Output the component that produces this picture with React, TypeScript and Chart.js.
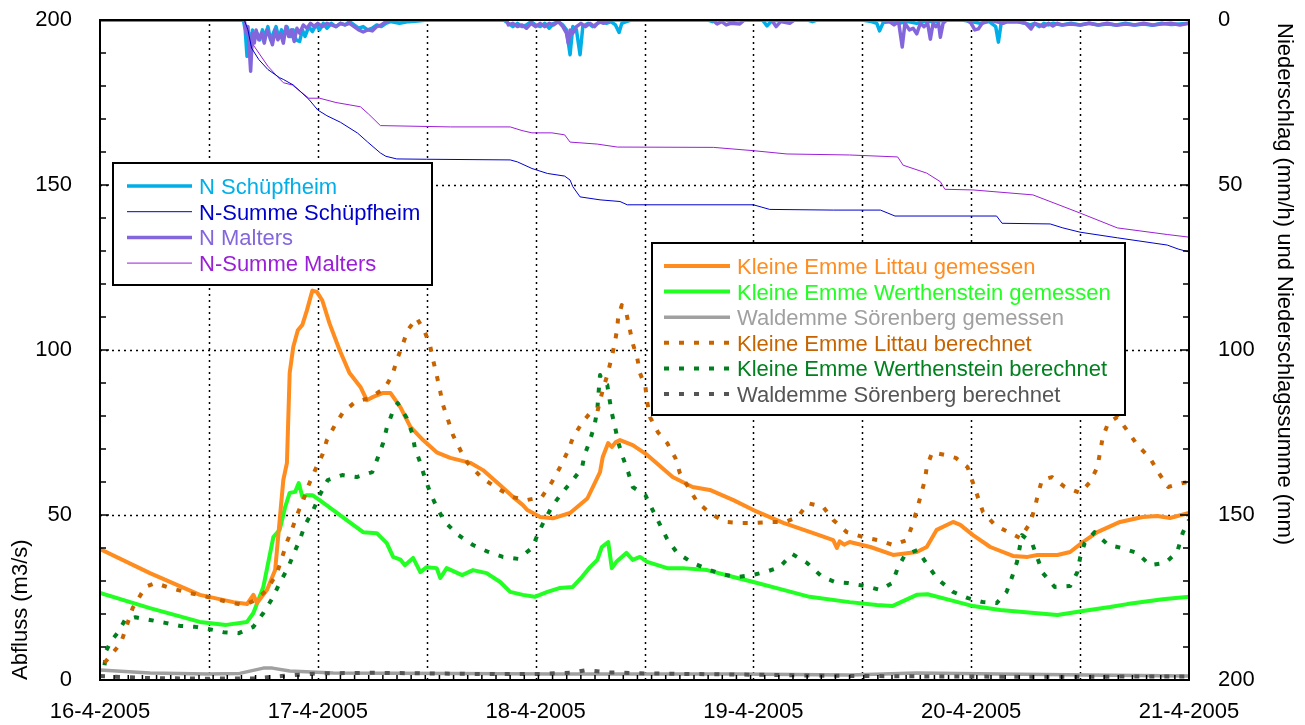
import React, { useEffect, useRef } from 'react';
import { Chart, registerables } from 'chart.js';
Chart.register(...registerables);

// ---------- data (x = hours since 16-4-2005 00:00) ----------
const dayLabels = ['16-4-2005', '17-4-2005', '18-4-2005', '19-4-2005', '20-4-2005', '21-4-2005'];
const leftTickValues = [0, 50, 100, 150, 200];
const rightTickValues = [0, 50, 100, 150, 200];

const seriesNames = [
  'N Schüpfheim',
  'N-Summe Schüpfheim',
  'N Malters',
  'N-Summe Malters',
  'Kleine Emme Littau gemessen',
  'Kleine Emme Werthenstein gemessen',
  'Waldemme Sörenberg gemessen',
  'Kleine Emme Littau berechnet',
  'Kleine Emme Werthenstein berechnet',
  'Waldemme Sörenberg berechnet',
];

// precipitation (mm/h), right axis
const nSchuepfheim: number[][] = [
  [0, 0], [15.8, 0], [16, 3], [16.2, 11], [16.4, 4], [16.6, 9], [16.8, 3], [17, 6], [17.3, 4], [17.6, 6],
  [17.9, 3], [18.2, 5], [18.5, 2], [18.8, 6], [19.1, 4], [19.4, 2], [19.7, 5.5], [20, 3], [20.3, 4.5],
  [20.6, 2], [21, 5], [21.3, 3], [21.6, 6], [22, 6.5], [22.3, 3], [22.6, 5], [23, 2], [23.4, 3.5],
  [23.8, 1.5], [24.2, 3], [24.6, 1], [25, 2.5], [25.5, 1], [26, 2], [26.5, 1], [27, 1.5], [27.5, 0.5],
  [28, 1.5], [28.5, 2.5], [29, 2], [29.5, 3], [30, 2.5], [30.5, 1.5], [31, 2], [31.5, 1], [32, 0.5],
  [33, 1], [34, 0.5], [35, 0.3], [36, 0], [44.5, 0], [45, 1], [45.5, 2], [46, 1], [46.5, 2], [47, 1.5],
  [47.5, 0.5], [48, 1.5], [48.5, 2], [49, 1], [49.5, 2.5], [50, 1], [50.5, 0.5], [51, 1.5], [51.4, 3],
  [51.8, 10.5], [52.1, 2], [52.5, 3], [52.9, 10.5], [53.2, 2], [53.8, 1], [54.3, 2], [54.8, 1], [55.3, 0.5],
  [55.8, 1], [56.3, 0.5], [56.8, 1.5], [57.2, 3.8], [57.5, 1], [58, 0.5], [58.5, 0], [67, 0], [67.5, 0.5],
  [68, 0], [69, 0], [69.5, 0.4], [70, 0], [73, 0], [73.5, 1.8], [74, 0.3], [75, 0], [78, 0], [78.5, 0.5],
  [79, 0], [84, 0], [85, 0.5], [85.6, 1], [85.9, 3.3], [86.3, 0.8], [87, 0.5], [88, 1], [89, 0.5], [90, 1],
  [91, 0.3], [92, 0.5], [93, 0], [95, 0], [96, 0.5], [97, 1], [98, 0.5], [98.7, 2], [99, 6.7], [99.3, 1],
  [100, 0.5], [101, 0.5], [102, 1], [102.5, 1.5], [103, 1], [103.5, 2], [104, 1], [104.5, 1.5], [105, 1],
  [106, 1.5], [107, 1], [108, 1.5], [109, 1], [110, 1.5], [111, 1.2], [112, 1.5], [113, 1], [114, 1.5],
  [115, 1.2], [116, 1.6], [117, 1], [118, 1.4], [119, 1.2], [120, 1],
];

const nMalters: number[][] = [
  [0, 0], [15.9, 0], [16.1, 4], [16.3, 2], [16.6, 15.5], [16.8, 4], [17, 7], [17.2, 3], [17.5, 6], [17.8, 4],
  [18.1, 7], [18.4, 3], [18.7, 5], [19, 7.5], [19.3, 3], [19.6, 6], [19.9, 4], [20.2, 7], [20.5, 2],
  [20.8, 5], [21.1, 3], [21.4, 6.5], [21.7, 2.5], [22, 4], [22.4, 1.5], [22.8, 2.5], [23.2, 1], [23.6, 2],
  [24, 1], [24.5, 2], [25, 1], [25.5, 1.5], [26, 2], [26.5, 1], [27, 1.5], [27.5, 1], [28, 2], [28.5, 3],
  [29, 3.6], [29.5, 3], [30, 3.3], [30.5, 2], [31, 1.5], [31.5, 0.5], [32, 0], [44.8, 0], [45, 1.5],
  [45.5, 1], [46, 2], [46.5, 1.5], [47, 2.5], [47.5, 1], [48, 2], [48.5, 1], [49, 2], [49.5, 1], [50, 1.5],
  [50.5, 0.5], [51, 2], [51.4, 4], [51.6, 7], [51.8, 3], [52.1, 4], [52.5, 2], [53, 1], [53.5, 2], [54, 1],
  [54.5, 2], [55, 0.5], [55.5, 1], [56, 0.3], [56.5, 0], [67.5, 0], [68, 1.2], [68.5, 0.5], [69, 1.5],
  [69.5, 1], [70.5, 1.2], [71, 0], [74, 0], [74.5, 2], [75, 0.5], [76, 1], [76.5, 0], [86, 0], [87, 0.5],
  [87.5, 1.5], [88, 0.5], [88.4, 8.2], [88.7, 1], [89.2, 3], [89.6, 2.5], [90, 4.2], [90.4, 1], [90.8, 2],
  [91.2, 1], [91.5, 5.8], [91.8, 1], [92.1, 2], [92.4, 1], [92.6, 5.2], [92.9, 1], [93.3, 0], [95.5, 0],
  [96, 1], [96.4, 3], [96.8, 2.7], [97.2, 1], [98, 0], [99.5, 1], [100, 0.5], [101, 0.5], [102, 1],
  [102.6, 2.7], [103, 1], [103.5, 1.5], [104, 2], [104.5, 1], [105, 1.8], [105.5, 1], [106, 1.5], [107, 1.2],
  [108, 1.5], [109, 1], [110, 1.5], [111, 1], [112, 1.6], [113, 1.2], [114, 1.5], [115, 1], [116, 1.5],
  [117, 1.2], [118, 1], [119, 1.5], [120, 1],
];

// cumulative precipitation (mm), right axis
const sumSchuepfheim: number[][] = [
  [0, 0], [15.9, 0], [16.3, 3], [16.7, 8.5], [17.5, 12], [18.5, 15], [19.8, 17.5], [20.2, 18], [21.3, 19.7],
  [23, 24], [24, 27.3], [25, 29], [26.5, 31], [28.4, 34.3], [29.5, 37], [30.9, 40.3], [31.5, 41.3],
  [32.7, 42.1], [36, 42.2], [45.2, 42.4], [46, 43], [47.6, 45], [49.3, 46.5], [51.2, 47.3], [51.8, 48.5],
  [52.1, 50.5], [52.9, 53.6], [55.1, 54.5], [57.3, 55], [58.1, 56], [72, 56], [73.8, 57.4], [80.8, 57.6],
  [86, 57.6], [87.6, 59.4], [98.8, 59.4], [99.4, 61.6], [104.7, 61.8], [106.1, 63], [108, 64.3],
  [112.1, 66], [117.6, 68.2], [118.8, 69.4], [120, 70.3],
];

const sumMalters: number[][] = [
  [0, 0], [15.9, 0], [16.5, 6], [17.5, 10], [18.5, 14], [19.5, 17], [20.2, 19], [21.2, 19.7], [23, 23.7],
  [24.2, 23.7], [26, 25], [28.7, 26.3], [29.6, 28.5], [30.9, 32], [38.6, 32.4], [45.2, 32.4], [46.5, 33.5],
  [47.6, 34.2], [49.8, 34.2], [51.2, 34.8], [51.8, 37], [54.8, 37.6], [57, 38.5], [67.6, 38.6], [72, 39.6],
  [75.7, 40.6], [82.6, 40.9], [87.9, 41.5], [88.5, 44], [91.1, 46.4], [92.6, 49], [93.1, 51.3], [96.2, 51.5],
  [102.8, 53], [108, 58.5], [112.1, 63], [117.6, 65], [120, 65.8],
];

// discharge (m3/s), left axis
const littauGemessen: number[][] = [
  [0, 39.7], [5.5, 32.4], [11, 25.8], [14.7, 23.6], [16.2, 23], [16.9, 25.8], [17.3, 23.3], [18.4, 27.3],
  [19.3, 33.3], [20.2, 60.6], [20.6, 65.8], [20.9, 93], [21.3, 101], [21.8, 106], [22.3, 107.6], [22.8, 112],
  [23.4, 118], [23.9, 117.6], [24.5, 115], [25.3, 108], [26.4, 100], [27.5, 93], [28.7, 88.8], [29.4, 84.8],
  [30.1, 85.8], [31.2, 87], [32, 87], [33.1, 82.7], [34.2, 76.7], [35.6, 72.7], [37.1, 69], [38.6, 67.3],
  [40.8, 65.8], [42.2, 63.6], [44.1, 59], [45.5, 55.5], [46.6, 53], [47.1, 51.5], [48.5, 49.4], [49.9, 49],
  [51.8, 50.6], [53.7, 55], [55.1, 63], [55.4, 67.6], [56, 71.8], [56.4, 70.6], [56.8, 72], [57.3, 72.7],
  [58.7, 71.2], [60.3, 68.2], [63.1, 61.5], [65.3, 58.5], [67.2, 57.6], [69.8, 54.5], [72, 51.5], [75.3, 47.6],
  [78.6, 44.5], [80.8, 42.4], [81.2, 40], [81.5, 42], [82, 41], [82.6, 41.8], [84.9, 40.3], [87.4, 37.9],
  [90, 38.8], [91.1, 40.3], [92.2, 45.5], [94, 47.9], [94.8, 47], [96.2, 43.9], [98.1, 40.3], [100.6, 37.6],
  [102.2, 37.3], [103.3, 37.9], [105.5, 37.9], [106.9, 38.8], [108.3, 41.8], [109.9, 44.8], [112.4, 47.9],
  [114.9, 49.4], [116.5, 49.7], [117.9, 49.1], [120, 50.6],
];

const werthensteinGemessen: number[][] = [
  [0, 26.4], [5.5, 21.8], [11, 17.6], [13.9, 16.7], [16.2, 17.6], [16.9, 20.3], [18, 28.2], [19.1, 43.3],
  [19.8, 45.5], [20.4, 52.4], [20.9, 56.7], [21.5, 57], [21.9, 59.7], [22.3, 55.5], [22.8, 56], [23.4, 56],
  [24.2, 54.5], [25.7, 51.5], [27.6, 47.6], [29, 44.8], [30.5, 44.5], [31.6, 41.5], [32.3, 37.3],
  [33.1, 36.5], [33.6, 34.8], [34.5, 37], [35.3, 32.7], [36, 34.2], [37.1, 33.9], [37.5, 30.9], [38.2, 33.9],
  [39.9, 31.8], [41.1, 33.3], [42.6, 32.4], [44.1, 29.7], [45.2, 26.7], [46.6, 25.8], [47.9, 25.2],
  [49.3, 26.7], [50.7, 27.9], [52.1, 28.2], [53.1, 31.2], [54, 34.2], [54.8, 36.4], [55.3, 40.3], [56, 41.8],
  [56.4, 33.9], [56.9, 35.8], [58, 38.5], [58.7, 36.4], [59.5, 37.3], [60.3, 35.8], [62.5, 33.9], [64.2, 33.9],
  [66.9, 33.3], [69.8, 31.2], [72, 29.7], [75.3, 27.3], [78.2, 25.2], [82.6, 23.6], [85.6, 22.7],
  [87.3, 22.4], [90, 25.8], [91.2, 26], [93.7, 24.2], [96.2, 22.4], [99.2, 21.2], [101.7, 20.6],
  [105.5, 19.7], [108.3, 20.9], [111.3, 22.1], [113.2, 23], [117.1, 24.5], [120, 25.2],
];

const soerenbergGemessen: number[][] = [
  [0, 3], [5.5, 2.1], [11.8, 1.8], [15.4, 2], [18, 3.6], [19, 3.6], [20.9, 2.7], [25.7, 2.1], [38.6, 2],
  [50, 1.8], [60, 1.8], [70, 1.8], [82.6, 1.5], [90, 2.1], [99, 1.8], [109, 1.5], [120, 1.2],
];

const littauBerechnet: number[][] = [
  [0.5, 5.2], [1.4, 8.2], [2.3, 11.2], [2.8, 15.2], [3.6, 21.8], [5, 28.2], [6.1, 29.4], [7.7, 27.9],
  [9.4, 26.7], [10.8, 25.8], [12.5, 24.8], [14.1, 23.6], [15.9, 22.7], [17.1, 24.2], [18.4, 27.3],
  [19.5, 32.4], [20.05, 37], [20.6, 41.8], [21.2, 46], [21.8, 50.6], [22.4, 54.5], [22.9, 58.5], [23.7, 63.6],
  [24.5, 68.2], [25, 72.7], [25.9, 77.3], [26.8, 81.2], [28.1, 84.2], [29.75, 85.5], [31.4, 88.5],
  [32.2, 92.4], [32.8, 97.6], [33.4, 102], [33.9, 106], [34.9, 109.7], [35.8, 105.5], [36.4, 101],
  [36.7, 97], [37.1, 92.4], [37.5, 87.3], [37.8, 83.3], [38.35, 78.8], [38.9, 74.2], [39.7, 69.7],
  [40.5, 65.8], [42.1, 61.2], [43.75, 58.2], [45.4, 55.5], [47, 54.5], [48.7, 55.5], [49.8, 60], [50.7, 64.5],
  [51.5, 69], [52.1, 73.3], [53.1, 77.9], [54, 80.9], [54.8, 81.2], [55.4, 87.9], [55.9, 92.4], [56.4, 97.9],
  [56.75, 102.4], [57, 106.7], [57.1, 110], [57.5, 113.6], [58, 111.2], [58.4, 106], [58.7, 102],
  [59.2, 97.6], [59.5, 93], [60.1, 88.8], [60.3, 84.2], [60.6, 79.7], [61.5, 75], [62.5, 71.8], [63.4, 67.3],
  [63.9, 62.7], [64.7, 59], [65.8, 54], [67.2, 50.6], [68.9, 47.9], [70.5, 47.6], [72.2, 47.6], [73.8, 47.9],
  [75.5, 47.9], [76.9, 49.4], [78, 53.6], [79.7, 52.4], [80.8, 48.5], [82.3, 44.8], [84.1, 43.3],
  [85.7, 42.4], [87.4, 40.9], [88.9, 42.4], [89.6, 47.6], [90, 51.5], [90.4, 55.5], [90.9, 60.6],
  [91.1, 64.5], [91.7, 69], [93.1, 68.2], [94.3, 67.3], [95.6, 64.5], [96.2, 59.7], [97.3, 50.9], [98.6, 47],
  [100.1, 44.8], [101.4, 43], [102.5, 47.6], [103, 52.1], [103.4, 56.7], [103.8, 60.6], [104.9, 61.5],
  [106.3, 58.5], [108, 56.7], [109.1, 60], [109.9, 64.5], [110.2, 69], [110.5, 73.6], [111.1, 77.9],
  [112.1, 79.7], [113.3, 75.2], [114.3, 71.2], [115.7, 67.3], [116.6, 63], [117.7, 58.5], [119.3, 59.7],
  [120, 60],
];

const werthensteinBerechnet: number[][] = [
  [0.5, 4.5], [0.7, 9], [1.3, 12.1], [2, 14.5], [2.75, 18.2], [3.9, 19], [5.5, 18.2], [7.2, 17.3], [8.8, 16.4],
  [10.5, 16.1], [11.9, 15.5], [13.6, 14.5], [15.3, 14.2], [16.9, 16.1], [18, 20.3], [19, 24.8], [19.8, 29.4],
  [20.7, 33.9], [21.3, 37.9], [22, 42.4], [22.6, 47], [23.5, 51.5], [24.2, 56], [25.1, 60.6], [26.7, 62.1],
  [28.3, 61.5], [30, 63], [30.6, 67.3], [31.2, 71.8], [31.6, 76.4], [32.2, 80.9], [32.8, 83.9], [33.8, 79.4],
  [34.4, 74.8], [34.7, 70.3], [35.3, 65.8], [35.8, 61.2], [36.4, 56.7], [37.1, 52.4], [38, 47.9],
  [39.5, 43.9], [41.1, 40.9], [42.8, 38.8], [44.4, 37.3], [46.1, 36.7], [47.6, 40], [48.3, 44.5], [49, 48.5],
  [49.9, 53], [51, 57], [52.1, 60.6], [53.1, 64.2], [53.4, 68.2], [54, 72.7], [54.5, 77.3], [54.8, 81.8],
  [54.9, 85.8], [55.1, 92.4], [55.4, 90.3], [55.9, 89.4], [56.1, 85.8], [56.4, 80.9], [56.75, 76.7],
  [57.1, 72.1], [57.6, 67.6], [58.2, 63], [58.7, 58.5], [60.1, 56], [60.9, 51.5], [62.5, 42.7], [63.6, 38.5],
  [65.3, 35.5], [66.9, 33.6], [68.5, 32.1], [70.2, 31.2], [71.85, 31.8], [73.3, 32.7], [74.9, 34.2],
  [76.25, 38.2], [77.9, 35.5], [79.6, 31.2], [81, 29.7], [82.4, 29.4], [84.3, 28.5], [85.95, 27.3],
  [87.3, 29.4], [87.9, 33.9], [88.7, 37.9], [90.1, 39.4], [91.2, 34.8], [92.3, 30.6], [94, 26.7],
  [95.65, 24.8], [97.3, 23.6], [98.8, 23.3], [99.9, 26.7], [100.5, 31.2], [101.05, 35.8], [101.6, 43.9],
  [102.7, 41.5], [103.9, 32.4], [105.2, 28.2], [106.9, 28.5], [107.7, 32.7], [108, 37], [108.5, 41.5],
  [109.6, 44.8], [111.1, 40.9], [112.6, 40], [114.3, 38.5], [115.7, 34.8], [117.4, 35.5], [118.7, 38.8],
  [119.3, 44.5], [120, 48.5],
];

const soerenbergBerechnet: number[][] = [
  [0, 1.2], [5, 0.6], [12, 0.4], [17, 0.5], [20, 1.2], [24, 2], [30, 2.2], [36, 2], [42, 1.8], [48, 1.8],
  [52, 2.2], [53.6, 3], [56, 2.3], [60, 2], [66, 1.8], [72, 1.6], [80, 1.3], [90, 1.1], [100, 1], [110, 1],
  [120, 1.1],
];

const seriesColors = [
  '#00aee8', '#0000cc', '#8466dc', '#9a1fd6',
  '#ff8c1e', '#22ff22', '#a0a0a0', '#c86400', '#00801e', '#555555',
];

// ---------- styling / layout ----------
const FONT = "'Liberation Sans', Arial, Helvetica, sans-serif";
const W = 1305;
const H = 725;
const MINOR_X_STEP = 120 / 77;

const legendBoxes = [
  { rect: [113, 163, 432, 285], line: [127, 192], textX: 199, base0: 194, dy: 25.7, items: [0, 1, 2, 3] },
  { rect: [652, 243, 1125, 415], line: [664, 730], textX: 737, base0: 274, dy: 25.6, items: [4, 5, 6, 7, 8, 9] },
];

const toXY = (arr: number[][]) => arr.map(([x, y]) => ({ x, y }));

function buildDatasets() {
  const defs = [
    { data: nSchuepfheim, axis: 'y2', width: 3.5, dash: [] as number[], order: 4 },
    { data: sumSchuepfheim, axis: 'y2', width: 1, dash: [], order: 3 },
    { data: nMalters, axis: 'y2', width: 3.5, dash: [], order: 3 },
    { data: sumMalters, axis: 'y2', width: 1, dash: [], order: 3 },
    { data: littauGemessen, axis: 'y', width: 4, dash: [], order: 2 },
    { data: werthensteinGemessen, axis: 'y', width: 4, dash: [], order: 2 },
    { data: soerenbergGemessen, axis: 'y', width: 3.5, dash: [], order: 2 },
    { data: littauBerechnet, axis: 'y', width: 4, dash: [5, 10], order: 1 },
    { data: werthensteinBerechnet, axis: 'y', width: 4, dash: [5, 10], order: 1 },
    { data: soerenbergBerechnet, axis: 'y', width: 4, dash: [5, 10], order: 1 },
  ];
  return defs.map((d, i) => ({
    label: seriesNames[i],
    data: toXY(d.data),
    yAxisID: d.axis,
    xAxisID: 'x',
    borderColor: seriesColors[i],
    backgroundColor: seriesColors[i],
    borderWidth: d.width,
    borderDash: d.dash,
    borderCapStyle: 'butt',
    borderJoinStyle: 'round',
    pointRadius: 0,
    tension: 0,
    fill: false,
    order: d.order,
  }));
}

const decorPlugin = {
  id: 'decor',
  beforeDatasetsDraw(chart: any) {
    const { ctx, chartArea: a, scales } = chart;
    ctx.save();
    ctx.strokeStyle = '#000';
    ctx.lineWidth = 1.5;
    ctx.setLineDash([2, 4]);
    ctx.beginPath();
    scales.x.ticks.forEach((t: any) => {
      if (t.value <= 0 || t.value >= 120) return;
      const px = Math.round(scales.x.getPixelForValue(t.value)) + 0.5;
      ctx.moveTo(px, a.bottom);
      ctx.lineTo(px, a.top);
    });
    scales.y.ticks.forEach((t: any) => {
      if (t.value <= 0 || t.value >= 200) return;
      const py = Math.round(scales.y.getPixelForValue(t.value)) + 0.5;
      ctx.moveTo(a.left, py);
      ctx.lineTo(a.right, py);
    });
    ctx.stroke();
    ctx.restore();
  },
  afterDatasetsDraw(chart: any) {
    const { ctx, chartArea: a, scales } = chart;
    ctx.save();
    ctx.setLineDash([]);
    ctx.strokeStyle = '#000';
    ctx.lineWidth = 1.5;
    ctx.beginPath();
    for (let v = 0; v <= 200; v += 10) {
      const len = v % 50 === 0 ? 9 : 6;
      const py = scales.y.getPixelForValue(v);
      ctx.moveTo(a.left, py);
      ctx.lineTo(a.left + len, py);
      const py2 = scales.y2.getPixelForValue(v);
      ctx.moveTo(a.right, py2);
      ctx.lineTo(a.right - len, py2);
    }
    for (let k = 0; k <= 77; k++) {
      const px = scales.x.getPixelForValue(k * MINOR_X_STEP);
      ctx.moveTo(px, a.bottom);
      ctx.lineTo(px, a.bottom - 5);
    }
    ctx.stroke();
    ctx.lineWidth = 2;
    ctx.strokeRect(a.left, a.top, a.right - a.left, a.bottom - a.top);

    // axis titles
    ctx.fillStyle = '#000';
    ctx.font = `22px ${FONT}`;
    ctx.textBaseline = 'middle';
    ctx.textAlign = 'left';
    ctx.save();
    ctx.translate(21, a.bottom);
    ctx.rotate(-Math.PI / 2);
    ctx.fillText('Abfluss (m3/s)', 0, 0);
    ctx.restore();
    ctx.save();
    ctx.translate(1284, 23);
    ctx.rotate(Math.PI / 2);
    ctx.fillText('Niederschlag (mm/h) und Niederschlagssumme (mm)', 0, 0);
    ctx.restore();

    // legends
    const ds = chart.data.datasets;
    legendBoxes.forEach((lb) => {
      const [x1, y1, x2, y2] = lb.rect;
      ctx.fillStyle = '#fff';
      ctx.fillRect(x1, y1, x2 - x1, y2 - y1);
      ctx.strokeStyle = '#000';
      ctx.lineWidth = 2;
      ctx.setLineDash([]);
      ctx.strokeRect(x1, y1, x2 - x1, y2 - y1);
      lb.items.forEach((idx, r) => {
        const d = ds[idx];
        const base = lb.base0 + r * lb.dy;
        const ly = base - 8;
        ctx.save();
        ctx.strokeStyle = d.borderColor;
        ctx.lineWidth = d.borderWidth;
        ctx.setLineDash(d.borderDash || []);
        ctx.lineCap = 'butt';
        ctx.beginPath();
        ctx.moveTo(lb.line[0], ly);
        ctx.lineTo(lb.line[1], ly);
        ctx.stroke();
        ctx.restore();
        ctx.fillStyle = d.borderColor;
        ctx.font = `22px ${FONT}`;
        ctx.textBaseline = 'alphabetic';
        ctx.textAlign = 'left';
        ctx.fillText(d.label, lb.textX, base);
      });
    });
    ctx.restore();
  },
};

export default function App() {
  const ref = useRef<HTMLCanvasElement>(null);
  useEffect(() => {
    Chart.defaults.font.family = FONT;
    const tickFont = { size: 22, family: FONT };
    const chart = new Chart(ref.current as HTMLCanvasElement, {
      type: 'line',
      data: { datasets: buildDatasets() as any },
      options: {
        responsive: false,
        animation: false,
        devicePixelRatio: 1,
        layout: { padding: { top: 20, left: 0, right: 0, bottom: 0 } },
        plugins: { legend: { display: false }, tooltip: { enabled: false } },
        scales: {
          x: {
            type: 'linear',
            position: 'bottom',
            min: 0,
            max: 120,
            ticks: {
              stepSize: 12,
              autoSkip: false,
              maxRotation: 0,
              minRotation: 0,
              padding: 0,
              color: '#000',
              font: tickFont,
              callback: (v: any) => (v % 24 === 0 ? dayLabels[v / 24] : ''),
            },
            grid: { display: false, drawTicks: true, tickLength: 19 },
            border: { display: false },
            afterFit: (s: any) => { s.height = 45; },
          },
          y: {
            type: 'linear',
            position: 'left',
            min: 0,
            max: 200,
            afterBuildTicks: (s: any) => { s.ticks = leftTickValues.map((value) => ({ value })); },
            ticks: { padding: 0, color: '#000', font: tickFont, callback: (v: any) => String(v) },
            grid: { display: false, drawTicks: true, tickLength: 28 },
            border: { display: false },
            afterFit: (s: any) => { s.width = 100; },
          },
          y2: {
            type: 'linear',
            position: 'right',
            min: 0,
            max: 200,
            reverse: true,
            afterBuildTicks: (s: any) => { s.ticks = rightTickValues.map((value) => ({ value })); },
            ticks: { padding: 0, color: '#000', font: tickFont, callback: (v: any) => String(v) },
            grid: { display: false, drawTicks: true, tickLength: 29 },
            border: { display: false },
            afterFit: (s: any) => { s.width = W - 1189; },
          },
        },
      } as any,
      plugins: [decorPlugin],
    });
    return () => chart.destroy();
  }, []);
  return (
    <div style={{ position: 'absolute', left: 0, top: 0, width: W, height: H, background: '#fff' }}>
      <canvas ref={ref} width={W} height={H} style={{ width: W, height: H, display: 'block' }} />
    </div>
  );
}
